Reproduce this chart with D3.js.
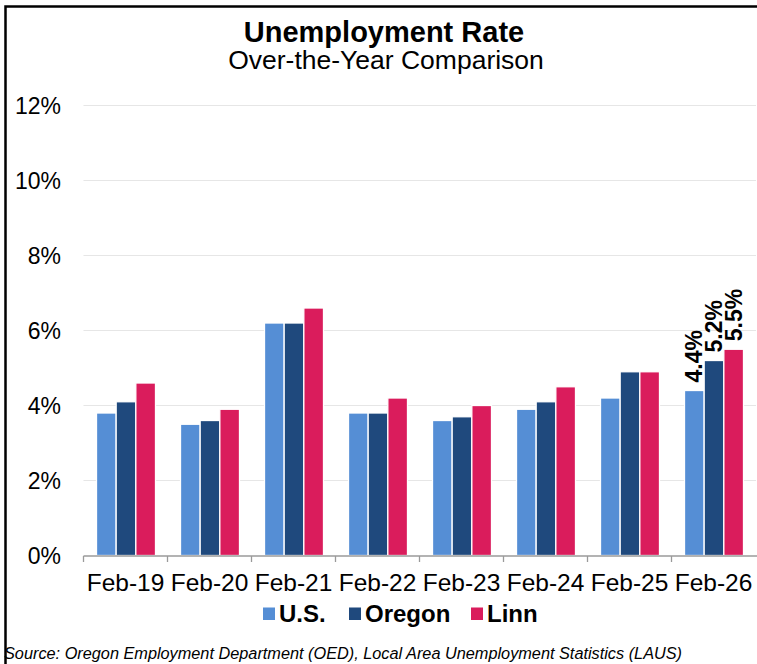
<!DOCTYPE html>
<html>
<head>
<meta charset="utf-8">
<script src="https://cdn.jsdelivr.net/npm/d3@7/dist/d3.min.js"></script>
<style>
  html, body { margin: 0; padding: 0; background: #fff; }
  svg { display: block; font-family: "Liberation Sans", Arial, sans-serif; }
</style>
</head>
<body>
<script>
const categories = ["Feb-19","Feb-20","Feb-21","Feb-22","Feb-23","Feb-24","Feb-25","Feb-26"];
const seriesNames = ["U.S.","Oregon","Linn"];
const usValues     = [3.8, 3.5, 6.2, 3.8, 3.6, 3.9, 4.2, 4.4];
const oregonValues = [4.1, 3.6, 6.2, 3.8, 3.7, 4.1, 4.9, 5.2];
const linnValues   = [4.6, 3.9, 6.6, 4.2, 4.0, 4.5, 4.9, 5.5];
const yTicks = [0, 2, 4, 6, 8, 10, 12];
const colors = ["#558ED5", "#1F497D", "#DA1C5C"];
const labeledCategory = "Feb-26";

const seriesValues = [usValues, oregonValues, linnValues];
const W = 757, H = 664;
const svg = d3.select("body").append("svg").attr("width", W).attr("height", H);

// frame (left + top)
svg.append("path").attr("d", `M5.5,${H} L5.5,6.5 L${W},6.5`)
  .attr("fill", "none").attr("stroke", "#000").attr("stroke-width", 2.5);

// titles
svg.append("text").attr("x", 384).attr("y", 41.5).attr("text-anchor", "middle")
  .attr("font-size", 29).attr("font-weight", "bold").attr("fill", "#000")
  .text("Unemployment Rate");
svg.append("text").attr("x", 386).attr("y", 68.5).attr("text-anchor", "middle")
  .attr("font-size", 26.5).attr("fill", "#000")
  .text("Over-the-Year Comparison");

const x0 = d3.scaleBand().domain(categories).range([83.5, 755.5]).paddingInner(0).paddingOuter(0);
const x1 = d3.scaleBand().domain(seriesNames).range([13, 72]);
const y = d3.scaleLinear().domain([0, 12]).range([555.5, 105.5]);

// gridlines
svg.append("g").selectAll("line").data(yTicks.filter(t => t > 0)).join("line")
  .attr("x1", 83.5).attr("x2", 756).attr("y1", d => y(d)).attr("y2", d => y(d))
  .attr("stroke", "#e6e6e6").attr("stroke-width", 1.2);

// y labels
svg.append("g").selectAll("text").data(yTicks).join("text")
  .attr("x", 61).attr("y", d => y(d)).attr("dy", "0.36em")
  .attr("text-anchor", "end").attr("font-size", 23).attr("fill", "#000")
  .text(d => d + "%");

// bars
const rows = categories.map((c, i) => ({ cat: c, vals: seriesNames.map((s, j) => ({ s, j, v: seriesValues[j][i] })) }));
const groups = svg.append("g").selectAll("g").data(rows).join("g")
  .attr("transform", d => `translate(${x0(d.cat)},0)`);
groups.selectAll("rect").data(d => d.vals).join("rect")
  .attr("x", d => x1(d.s)).attr("width", x1.bandwidth())
  .attr("y", d => y(d.v)).attr("height", d => y(0) - y(d.v))
  .attr("fill", d => colors[d.j]).attr("stroke", "#fff").attr("stroke-width", 1.3);

// data labels for last category
groups.filter(d => d.cat === labeledCategory).selectAll("text.lbl").data(d => d.vals).join("text")
  .attr("class", "lbl")
  .attr("transform", d => `translate(${x1(d.s) + x1.bandwidth() / 2 + 8},${y(d.v) - 8}) rotate(-90)`)
  .attr("text-anchor", "start").attr("font-size", 23).attr("font-weight", "bold").attr("fill", "#000")
  .text(d => d.v.toFixed(1) + "%");

// x axis
const xAxis = svg.append("g");
xAxis.append("line").attr("x1", 83.5).attr("x2", 757).attr("y1", 556).attr("y2", 556)
  .attr("stroke", "#9a9a9a").attr("stroke-width", 1.3);
xAxis.selectAll("line.tk").data(categories).join("line").attr("class", "tk")
  .attr("x1", d => x0(d)).attr("x2", d => x0(d)).attr("y1", 556).attr("y2", 562)
  .attr("stroke", "#9a9a9a").attr("stroke-width", 1.3);
xAxis.selectAll("text").data(categories).join("text")
  .attr("x", d => x0(d) + x0.bandwidth() / 2).attr("y", 591)
  .attr("text-anchor", "middle").attr("font-size", 24.5).attr("fill", "#000")
  .text(d => d);

// legend
const legendX = [263, 349, 471];
const lg = svg.append("g").selectAll("g").data(seriesNames).join("g")
  .attr("transform", (d, i) => `translate(${legendX[i]},0)`);
lg.append("rect").attr("x", 0).attr("y", 607.5).attr("width", 12).attr("height", 12.5)
  .attr("fill", (d, i) => colors[i]);
lg.append("text").attr("x", 16).attr("y", 622).attr("font-size", 24).attr("font-weight", "bold")
  .attr("fill", "#000").text(d => d);

// source
svg.append("text").attr("x", 4).attr("y", 659).attr("font-size", 16.3).attr("font-style", "italic")
  .attr("fill", "#000")
  .text("Source: Oregon Employment Department (OED), Local Area Unemployment Statistics (LAUS)");
</script>
</body>
</html>
